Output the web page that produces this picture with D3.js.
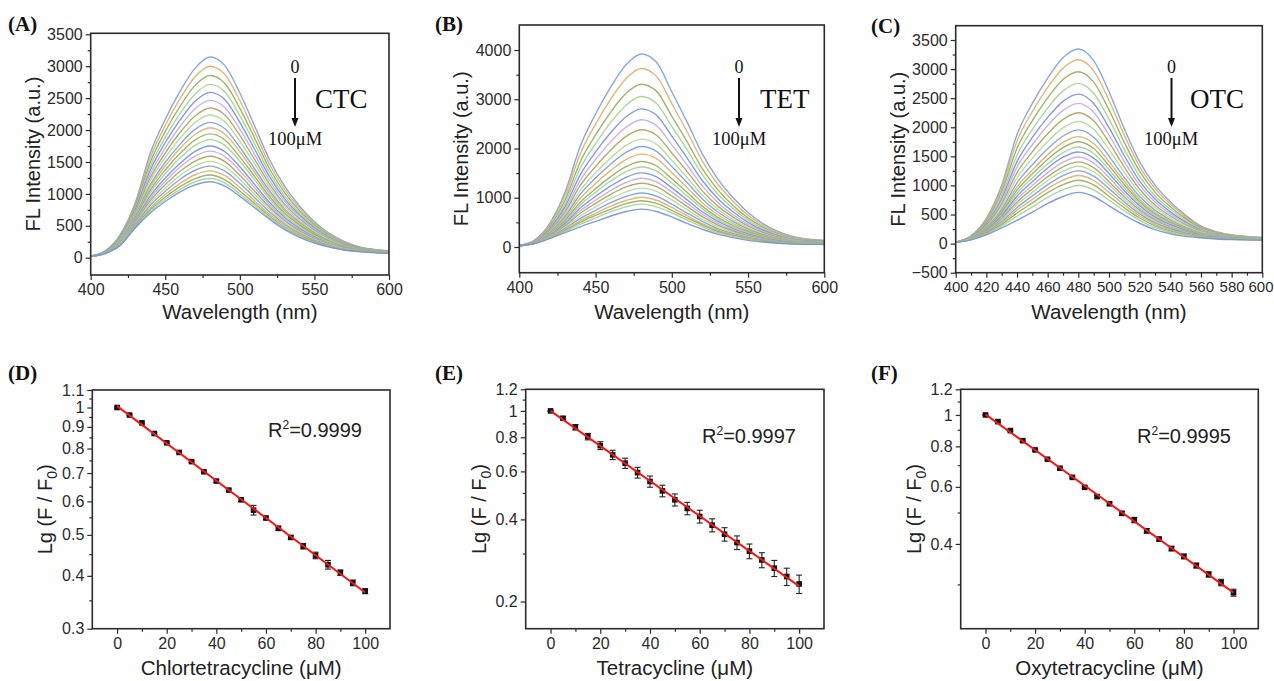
<!DOCTYPE html>
<html>
<head>
<meta charset="utf-8">
<script src="https://cdn.jsdelivr.net/npm/d3@7/dist/d3.min.js"></script>
<style>
    body { margin: 0; background: #fff; }
    svg { display: block; }
</style>
</head>
<body>
<svg id="chart" width="1274" height="681"></svg>
<script>
// Emission spectra, sampled every 10 nm (one row per concentration, 0 -> 100 uM)
const wavelengths = [400, 410, 420, 430, 440, 450, 460, 470, 480, 490, 500, 510, 520, 530, 540, 550, 560, 570, 580, 590, 600];

const ctcSpectra = [
    [25,110,370,870,1640,2170,2610,2970,3145,3010,2580,2060,1530,1120,810,565,380,255,170,130,110],
    [25,105,355,840,1570,2075,2495,2835,3000,2870,2460,1965,1460,1070,775,540,365,245,165,125,105],
    [25,105,345,810,1500,1980,2375,2700,2855,2730,2340,1870,1390,1020,735,515,350,235,160,125,105],
    [25,100,330,780,1435,1885,2260,2565,2715,2595,2225,1780,1325,970,700,490,335,225,155,120,100],
    [25,100,320,755,1375,1805,2160,2450,2590,2475,2120,1695,1265,925,670,470,320,215,150,115,100],
    [25,95,310,730,1315,1720,2060,2335,2465,2350,2015,1615,1205,885,640,450,305,210,145,115,95],
    [25,95,300,705,1255,1640,1965,2220,2345,2235,1915,1535,1150,840,610,430,290,200,140,110,95],
    [25,90,290,685,1205,1570,1875,2120,2235,2130,1825,1465,1100,805,580,410,280,190,135,105,90],
    [20,90,280,660,1145,1495,1780,2010,2120,2020,1730,1390,1045,765,555,390,265,185,130,105,90],
    [20,85,270,645,1105,1435,1715,1930,2035,1935,1660,1335,1000,735,530,375,260,180,125,100,85],
    [20,85,260,625,1060,1375,1635,1845,1940,1845,1580,1270,955,700,510,360,250,170,125,100,85],
    [20,85,255,605,1020,1315,1565,1760,1850,1760,1510,1215,915,670,485,345,240,165,120,95,85],
    [20,80,245,585,970,1250,1480,1665,1750,1660,1425,1145,865,635,460,325,225,160,115,95,80],
    [20,80,240,570,930,1195,1420,1590,1670,1585,1360,1095,830,605,440,310,220,155,115,90,80],
    [20,80,230,550,895,1145,1355,1515,1590,1505,1290,1040,790,580,420,300,210,150,110,90,80],
    [20,75,225,535,855,1090,1290,1440,1510,1430,1225,990,755,550,400,285,200,140,105,90,75],
    [20,75,215,520,820,1040,1230,1370,1435,1355,1165,940,715,525,380,270,190,135,105,85,75],
    [20,75,210,505,780,990,1165,1300,1360,1285,1100,890,680,500,365,260,185,130,100,85,75],
    [20,70,205,490,750,950,1115,1240,1295,1220,1045,850,650,475,345,250,175,125,100,85,70],
    [20,70,200,480,725,915,1070,1190,1240,1170,1000,815,625,460,335,240,170,125,95,80,70],
    [20,70,195,470,700,880,1030,1140,1190,1120,960,780,600,440,320,230,165,120,95,80,70]
];

const tetSpectra = [
    [30,140,480,1110,2050,2700,3250,3700,3920,3750,3150,2540,1890,1390,1010,700,470,310,210,160,140],
    [30,135,450,1035,1895,2495,3005,3420,3625,3465,2910,2345,1745,1285,935,645,435,290,195,150,130],
    [30,125,420,950,1730,2275,2740,3120,3305,3160,2655,2140,1590,1170,850,590,400,265,180,140,120],
    [30,120,395,885,1600,2100,2530,2880,3055,2915,2450,1975,1470,1080,785,545,370,245,170,130,115],
    [30,115,370,820,1470,1930,2325,2645,2805,2675,2250,1810,1350,990,720,500,340,225,155,125,110],
    [30,110,350,760,1355,1775,2140,2435,2585,2465,2075,1665,1240,910,660,460,315,210,145,115,100],
    [30,105,330,710,1250,1635,1970,2245,2380,2270,1910,1535,1140,835,610,425,290,195,135,110,95],
    [25,100,310,660,1150,1505,1810,2065,2190,2085,1755,1410,1050,770,560,390,265,180,130,100,90],
    [25,100,295,620,1070,1400,1685,1920,2040,1940,1635,1310,975,715,520,365,250,170,120,95,85],
    [25,95,280,580,990,1290,1555,1775,1885,1795,1510,1210,900,660,480,335,230,160,115,90,80],
    [25,90,265,540,910,1185,1430,1630,1735,1645,1385,1110,830,605,440,310,215,145,105,85,80],
    [25,90,255,510,855,1110,1340,1530,1625,1540,1300,1040,775,565,410,290,200,140,100,85,75],
    [25,85,240,480,790,1030,1240,1415,1505,1425,1200,960,715,525,380,265,185,130,95,80,70],
    [25,85,230,450,735,950,1150,1310,1395,1320,1115,890,665,485,350,245,175,120,90,75,70],
    [25,80,220,425,685,885,1070,1220,1295,1225,1035,825,615,450,325,230,160,115,85,75,65],
    [25,80,210,400,630,815,985,1120,1195,1130,955,760,565,415,300,210,150,105,80,70,60],
    [25,75,200,375,580,745,900,1025,1095,1030,870,690,520,375,275,195,140,100,75,65,60],
    [25,75,195,350,535,685,830,945,1010,950,805,635,475,345,250,180,130,95,70,65,55],
    [25,75,185,335,500,640,770,880,940,885,745,590,445,320,235,165,120,90,70,60,55],
    [25,70,180,315,460,590,715,815,870,815,690,545,410,295,215,155,110,85,65,60,55],
    [25,70,170,290,410,520,630,720,770,720,610,480,360,260,190,135,100,75,60,55,50]
];

const otcSpectra = [
    [25,135,435,1005,1875,2410,2845,3195,3345,3145,2610,1975,1405,1005,720,485,300,205,150,125,105],
    [25,130,415,950,1765,2270,2685,3015,3160,2970,2465,1865,1325,950,680,460,285,195,145,120,100],
    [25,125,390,890,1640,2115,2505,2820,2955,2775,2300,1740,1240,885,635,430,270,185,135,115,100],
    [25,120,365,830,1520,1965,2330,2625,2755,2585,2140,1620,1155,820,590,400,250,175,130,110,95],
    [25,115,345,775,1410,1825,2170,2445,2570,2410,1995,1510,1075,765,545,370,235,165,125,105,90],
    [25,110,325,725,1315,1700,2030,2290,2410,2260,1865,1410,1005,715,510,350,225,160,120,100,90],
    [25,105,310,680,1220,1580,1890,2135,2250,2110,1740,1315,935,665,475,325,210,150,115,100,85],
    [25,100,290,635,1130,1465,1755,1990,2100,1965,1620,1225,870,620,440,305,200,140,110,95,80],
    [25,95,275,590,1045,1355,1630,1850,1955,1830,1505,1135,810,575,410,280,185,135,105,90,80],
    [25,90,260,555,975,1265,1530,1740,1840,1720,1410,1070,760,540,385,265,180,130,100,90,80],
    [25,90,250,530,920,1200,1450,1650,1750,1635,1340,1015,720,510,365,250,170,125,100,85,75],
    [25,85,240,500,865,1130,1370,1565,1660,1550,1270,960,685,480,345,240,165,120,95,85,75],
    [25,85,230,475,815,1065,1300,1485,1575,1470,1205,910,650,455,325,225,155,115,95,80,75],
    [25,80,220,450,765,1000,1220,1400,1490,1385,1135,855,610,430,305,215,150,110,90,80,70],
    [25,80,210,425,715,940,1150,1320,1405,1305,1065,805,575,405,285,200,145,105,85,80,70],
    [25,80,200,405,670,880,1085,1245,1330,1235,1010,760,545,380,270,190,135,105,85,75,70],
    [25,75,195,380,620,820,1015,1170,1250,1160,945,715,510,355,255,180,130,100,80,75,65],
    [25,75,185,355,575,760,945,1090,1170,1085,880,665,475,330,235,165,125,95,80,70,65],
    [25,70,175,330,525,700,875,1015,1090,1010,815,615,440,305,215,155,115,90,75,70,65],
    [25,70,165,305,470,630,795,925,1000,925,745,565,400,275,195,145,110,85,75,70,60],
    [25,65,150,270,400,540,690,810,880,810,650,490,350,240,170,125,100,80,70,65,60]
];

// F/F0 against concentration
const concentrations = [0, 5, 10, 15, 20, 25, 30, 35, 40, 45, 50, 55, 60, 65, 70, 75, 80, 85, 90, 95, 100];
const ctcRatio = [1.0, 0.96, 0.92, 0.868, 0.825, 0.783, 0.745, 0.705, 0.67, 0.638, 0.605, 0.572, 0.548, 0.518, 0.493, 0.47, 0.447, 0.425, 0.407, 0.385, 0.368];
const ctcError = [0.003, 0.004, 0.005, 0.004, 0.004, 0.004, 0.004, 0.004, 0.005, 0.004, 0.005, 0.015, 0.005, 0.006, 0.005, 0.007, 0.008, 0.010, 0.006, 0.006, 0.005];
const tetRatio = [1.0, 0.94, 0.871, 0.805, 0.746, 0.69, 0.643, 0.594, 0.551, 0.509, 0.472, 0.439, 0.41, 0.381, 0.353, 0.329, 0.306, 0.284, 0.265, 0.247, 0.232];
const tetError = [0.003, 0.012, 0.02, 0.022, 0.025, 0.027, 0.028, 0.027, 0.026, 0.025, 0.024, 0.023, 0.022, 0.021, 0.02, 0.019, 0.019, 0.018, 0.018, 0.018, 0.018];
const otcRatio = [1.0, 0.954, 0.895, 0.833, 0.78, 0.73, 0.685, 0.642, 0.598, 0.56, 0.532, 0.497, 0.474, 0.439, 0.414, 0.387, 0.366, 0.343, 0.322, 0.304, 0.283];
const otcError = [0.003, 0.005, 0.005, 0.005, 0.005, 0.005, 0.005, 0.005, 0.005, 0.006, 0.006, 0.007, 0.009, 0.007, 0.006, 0.006, 0.006, 0.006, 0.006, 0.007, 0.007];

// Tick values
const ctcYTicks = [0, 500, 1000, 1500, 2000, 2500, 3000, 3500];
const tetYTicks = [0, 1000, 2000, 3000, 4000];
const otcYTicks = [-500, 0, 500, 1000, 1500, 2000, 2500, 3000, 3500];
const wideXTicks = [400, 450, 500, 550, 600];
const narrowXTicks = [400, 420, 440, 460, 480, 500, 520, 540, 560, 580, 600];
const concTicks = [0, 20, 40, 60, 80, 100];
const ctcRatioTicks = [0.3, 0.4, 0.5, 0.6, 0.7, 0.8, 0.9, 1, 1.1];
const tetRatioTicks = [0.2, 0.4, 0.6, 0.8, 1, 1.2];
const otcRatioTicks = [0.4, 0.6, 0.8, 1, 1.2];

const lineColors = ['#7b9de3', '#e0ad6a', '#93ad5f', '#a3d38a', '#7490e0', '#c7a8ea', '#aaa35c', '#b0d994'];
const sansFont = '"Liberation Sans", Arial, sans-serif';
const serifFont = '"Liberation Serif", "Times New Roman", serif';

const svg = d3.select('#chart');
svg.append('rect').attr('width', 1274).attr('height', 681).attr('fill', '#fff');

// Panel layouts (pixel frames)
const spectraPanels = [
    { label: '(A)', labelX: 8, labelY: 31, left: 90.7, right: 389, top: 33.3, bottom: 275, yDomain: [-271, 3516],
      spectra: ctcSpectra, xTicks: wideXTicks, yTicks: ctcYTicks, yStep: 500, xFont: 16,
      drug: 'CTC', arrowX: 295, drugX: 315, unitX: 268 },
    { label: '(B)', labelX: 435, labelY: 31, left: 519.3, right: 824.3, top: 25, bottom: 272.7, yDomain: [-522, 4508],
      spectra: tetSpectra, xTicks: wideXTicks, yTicks: tetYTicks, yStep: 1000, xFont: 16,
      drug: 'TET', arrowX: 739, drugX: 760, unitX: 712 },
    { label: '(C)', labelX: 871, labelY: 33, left: 955.7, right: 1262.3, top: 25.7, bottom: 272.7, yDomain: [-500, 3746],
      spectra: otcSpectra, xTicks: narrowXTicks, yTicks: otcYTicks, yStep: 500, xFont: 15,
      drug: 'OTC', arrowX: 1171.5, drugX: 1190, unitX: 1144 }
];

const ratioPanels = [
    { label: '(D)', labelX: 8, labelY: 380, left: 92.3, right: 390, top: 390, bottom: 628.7, yDomain: [0.3, 1.1],
      ratio: ctcRatio, error: ctcError, yTicks: ctcRatioTicks, yMinor: [0.35, 0.45, 0.55, 0.65, 0.75, 0.85, 0.95, 1.05],
      title: 'Chlortetracycline (μM)', r2: '=0.9999', r2X: 268, r2Y: 437 },
    { label: '(E)', labelX: 435, labelY: 380, left: 525.7, right: 824, top: 389.3, bottom: 628.7, yDomain: [0.159, 1.2],
      ratio: tetRatio, error: tetError, yTicks: tetRatioTicks, yMinor: [0.3, 0.5, 0.7, 0.9, 1.1],
      title: 'Tetracycline (μM)', r2: '=0.9997', r2X: 702, r2Y: 443 },
    { label: '(F)', labelX: 871, labelY: 380, left: 960.7, right: 1258.3, top: 389.3, bottom: 628.7, yDomain: [0.219, 1.2],
      ratio: otcRatio, error: otcError, yTicks: otcRatioTicks, yMinor: [0.3, 0.5, 0.7, 0.9, 1.1],
      title: 'Oxytetracycline (μM)', r2: '=0.9995', r2X: 1137, r2Y: 443 }
];

function styleAxis(sel) {
    sel.select('.domain').remove();
    sel.attr('font-size', 16).attr('font-family', sansFont).attr('color', '#2b2b2b');
    sel.selectAll('line').attr('stroke-width', 1.2);
}

function drawAxes(g, p, x, y, xMajor, xMinor, yMajor, yMinor, yFormat) {
    g.append('g').attr('transform', `translate(0,${p.bottom})`)
        .call(d3.axisBottom(x).tickValues(xMinor).tickSize(3).tickFormat(''))
        .call(styleAxis);
    const xAxis = g.append('g').attr('transform', `translate(0,${p.bottom})`)
        .call(d3.axisBottom(x).tickValues(xMajor).tickSize(5).tickPadding(4).tickFormat(d3.format('d')))
        .call(styleAxis);
    g.append('g').attr('transform', `translate(${p.left},0)`)
        .call(d3.axisLeft(y).tickValues(yMinor).tickSize(3).tickFormat(''))
        .call(styleAxis);
    g.append('g').attr('transform', `translate(${p.left},0)`)
        .call(d3.axisLeft(y).tickValues(yMajor).tickSize(5).tickPadding(3).tickFormat(yFormat))
        .call(styleAxis);

    g.append('rect')
        .attr('x', p.left).attr('y', p.top)
        .attr('width', p.right - p.left).attr('height', p.bottom - p.top)
        .attr('fill', 'none').attr('stroke', '#2b2b2b').attr('stroke-width', 1.6);
    return xAxis;
}

function panelLabel(g, p) {
    g.append('text')
        .attr('x', p.labelX).attr('y', p.labelY)
        .attr('font-family', serifFont).attr('font-weight', 'bold').attr('font-size', 21)
        .attr('fill', '#111')
        .text(p.label);
}

function axisTitle(g, p, text, baselineY) {
    return g.append('text')
        .attr('x', (p.left + p.right) / 2).attr('y', baselineY)
        .attr('text-anchor', 'middle')
        .attr('font-family', sansFont).attr('font-size', 20.5).attr('fill', '#222')
        .text(text);
}

function sideTitle(g, p, offset) {
    return g.append('text')
        .attr('transform', `translate(${p.left - offset},${(p.top + p.bottom) / 2}) rotate(-90)`)
        .attr('text-anchor', 'middle')
        .attr('font-family', sansFont).attr('font-size', 20).attr('fill', '#222');
}

// Top row: spectra
spectraPanels.forEach(p => {
    const g = svg.append('g');
    const x = d3.scaleLinear().domain([400, 600]).range([p.left, p.right]);
    const y = d3.scaleLinear().domain(p.yDomain).range([p.bottom, p.top]);

    const line = d3.line()
        .x((d, i) => x(wavelengths[i]))
        .y(d => y(d))
        .curve(d3.curveMonotoneX);

    g.append('g').selectAll('path')
        .data(p.spectra)
        .join('path')
        .attr('d', line)
        .attr('fill', 'none')
        .attr('stroke', (d, i) => lineColors[i % lineColors.length])
        .attr('stroke-width', 1.4)
        .attr('stroke-opacity', 0.9);

    const xStep = p.xTicks[1] - p.xTicks[0];
    const xMinor = p.xTicks.slice(0, -1).map(v => v + xStep / 2);
    const yMinor = d3.range(Math.ceil(p.yDomain[0] / (p.yStep / 2)), Math.floor(p.yDomain[1] / (p.yStep / 2)) + 1)
        .map(k => k * p.yStep / 2)
        .filter(v => !p.yTicks.includes(v) && y(v) > p.top + 2 && y(v) < p.bottom - 2);

    const xAxis = drawAxes(g, p, x, y, p.xTicks, xMinor, p.yTicks, yMinor, d3.format('d'));
    xAxis.attr('font-size', p.xFont);
    // keep the last label inside the page edge
    const halfWidth = p.xFont * 0.834;
    const overflow = x(600) + halfWidth - 1273;
    if (overflow > 0) {
        xAxis.selectAll('.tick text').filter((d, i, n) => i === n.length - 1).attr('dx', -overflow);
    }

    panelLabel(g, p);
    axisTitle(g, p, 'Wavelength (nm)', 319);
    sideTitle(g, p, 51).text('FL Intensity (a.u.)');

    // concentration arrow
    g.append('text')
        .attr('x', p.arrowX).attr('y', 73)
        .attr('text-anchor', 'middle')
        .attr('font-family', serifFont).attr('font-size', 18).attr('fill', '#111')
        .text('0');
    g.append('line')
        .attr('x1', p.arrowX).attr('x2', p.arrowX)
        .attr('y1', 78).attr('y2', 119)
        .attr('stroke', '#111').attr('stroke-width', 2);
    g.append('path')
        .attr('d', `M${p.arrowX - 3.5},118 L${p.arrowX + 3.5},118 L${p.arrowX},127 Z`)
        .attr('fill', '#111');
    g.append('text')
        .attr('x', p.drugX).attr('y', 108)
        .attr('font-family', serifFont).attr('font-size', 27).attr('fill', '#111')
        .text(p.drug);
    g.append('text')
        .attr('x', p.unitX).attr('y', 145)
        .attr('font-family', serifFont).attr('font-size', 18.5).attr('fill', '#111')
        .text('100μM');
});

// Bottom row: F/F0 against concentration
ratioPanels.forEach(p => {
    const g = svg.append('g');
    const x = d3.scaleLinear().domain([-10, 110]).range([p.left, p.right]);
    const y = d3.scaleLog().domain(p.yDomain).range([p.bottom, p.top]);

    drawAxes(g, p, x, y, concTicks, [10, 30, 50, 70, 90], p.yTicks, p.yMinor, d => String(d));

    const points = concentrations.map((c, i) => ({ c, v: p.ratio[i], e: p.error[i] }));

    // error bars
    const bars = g.append('g').attr('stroke', '#222').attr('stroke-width', 1.1);
    points.forEach(d => {
        const y1 = y(d.v - d.e), y2 = y(d.v + d.e), cx = x(d.c);
        bars.append('line').attr('x1', cx).attr('x2', cx).attr('y1', y1).attr('y2', y2);
        bars.append('line').attr('x1', cx - 3).attr('x2', cx + 3).attr('y1', y1).attr('y2', y1);
        bars.append('line').attr('x1', cx - 3).attr('x2', cx + 3).attr('y1', y2).attr('y2', y2);
    });

    g.append('g').selectAll('rect')
        .data(points)
        .join('rect')
        .attr('x', d => x(d.c) - 2.8)
        .attr('y', d => y(d.v) - 2.8)
        .attr('width', 5.6).attr('height', 5.6)
        .attr('fill', '#111');

    // least squares fit of log10(F/F0) on concentration
    const lx = points.map(d => d.c), ly = points.map(d => Math.log10(d.v));
    const mx = d3.mean(lx), my = d3.mean(ly);
    const slope = d3.sum(lx, (v, i) => (v - mx) * (ly[i] - my)) / d3.sum(lx, v => (v - mx) * (v - mx));
    const icpt = my - slope * mx;
    const fit = [0, 100].map(c => ({ c, v: Math.pow(10, icpt + slope * c) }));
    g.append('path')
        .datum(fit)
        .attr('d', d3.line().x(d => x(d.c)).y(d => y(d.v)))
        .attr('stroke', '#f01818').attr('stroke-width', 2).attr('fill', 'none');

    panelLabel(g, p);
    axisTitle(g, p, p.title, 675);
    const st = sideTitle(g, p, 40);
    st.append('tspan').text('Lg (F / F');
    st.append('tspan').attr('dy', 5).attr('font-size', 14).text('0');
    st.append('tspan').attr('dy', -5).text(')');

    const r2 = g.append('text')
        .attr('x', p.r2X).attr('y', p.r2Y)
        .attr('font-family', sansFont).attr('font-size', 20).attr('fill', '#222');
    r2.append('tspan').text('R');
    r2.append('tspan').attr('dy', -8).attr('font-size', 12).text('2');
    r2.append('tspan').attr('dy', 8).text(p.r2);
});
</script>
</body>
</html>
